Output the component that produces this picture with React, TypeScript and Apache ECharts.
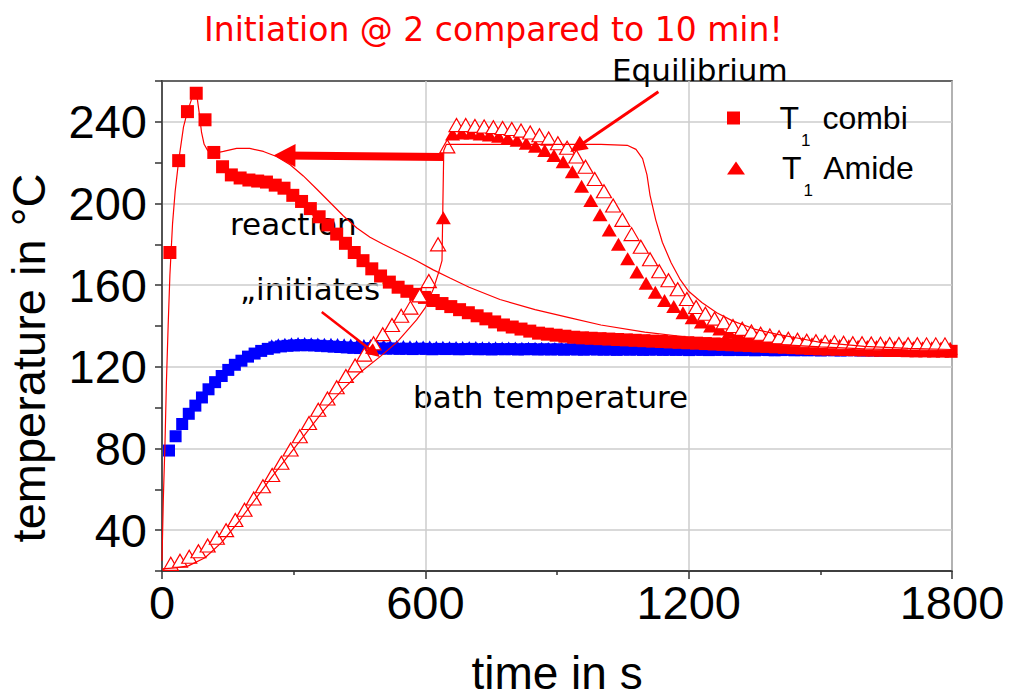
import React, { useEffect, useRef } from 'react';
import * as echarts from 'echarts';

// ---------- text ----------
const TITLE = 'Initiation @ 2 compared to 10 min!';
const X_NAME = 'time in s';
const Y_NAME = 'temperature in °C';
const COMBI_NAME = 'T1 combi';
const AMIDE_NAME = 'T1 Amide';

// ---------- axes ----------
const X_MIN = 0;
const X_MAX = 1800;
const X_INTERVAL = 600;
const Y_MIN = 20;
const Y_MAX = 260;
const Y_INTERVAL = 20;
const Y_LABEL_EVERY = 40;

// ---------- data (time grids: start + step * index) ----------
// T1 combi (red filled squares)
const combiStart = 18;
const combiStep = 20;
const combiTemp = [
  176, 221, 245, 254, 241, 225, 218, 214, 212.5, 211.5,
  211, 210.5, 209, 207.5, 204, 201, 197.5, 193.5, 189.5, 185,
  180.5, 176, 172, 168, 164.5, 161.5, 159, 157, 155.5, 154,
  152.5, 151, 149.5, 148, 146.5, 145, 143.5, 142, 140.5, 139.5,
  138.5, 137.5, 136.5, 136, 135.5, 135, 134.5, 134.2, 134, 133.8,
  133.6, 133.4, 133.2, 133, 132.8, 132.6, 132.4, 132.2, 132, 131.8,
  131.6, 131.4, 131.2, 131, 130.8, 130.6, 130.4, 130.2, 130, 129.8,
  129.6, 129.4, 129.2, 129, 128.8, 128.7, 128.6, 128.5, 128.4, 128.3,
  128.2, 128.1, 128, 128, 127.9, 127.8, 127.8, 127.7, 127.7, 127.6,
];

// T1 Amide (red filled triangles)
const amideStart = 641;
const amideStep = 21;
const amideTemp = [
  193, 234, 234.5, 234.5, 234, 233.5, 233, 232, 231, 229.5,
  228, 226, 223.5, 220.5, 215.5, 208.5, 201.5, 194.5, 187, 180,
  173, 166.5, 161, 156.5, 152.5, 149.5, 146.5, 144, 142, 140,
  138.5, 137, 136, 135, 134.2, 133.5, 133, 132.5, 132, 131.6,
  131.3, 131, 130.7, 130.5, 130.3, 130.1, 130, 129.9, 129.8, 129.7,
  129.6, 129.5, 129.4, 129.3, 129.2, 129.1,
];

// second amide run (red open triangles)
const amideOpenStart = 20;
const amideOpenStep = 21;
const amideOpenTemp = [
  23.5, 25, 27, 29.7, 32.5, 36.3, 40, 45, 50, 55.5,
  61.5, 67, 73, 79.5, 86, 92.5, 99, 104.5, 110, 115.5,
  120.7, 126, 131.5, 136, 140.5, 145, 149, 155, 162, 180,
  228, 238.4, 238.4, 238, 237.7, 237.4, 237, 236.5, 235.7, 234.8,
  233.4, 231.8, 229.5, 227.3, 223, 218, 212, 206, 199, 192,
  185, 178.8, 172.7, 166.8, 162.4, 158, 153.2, 149.3, 146, 143.6,
  141.8, 140, 138.6, 137.3, 136.2, 135.3, 134.5, 133.8, 133.3, 132.8,
  132.5, 132.2, 132, 131.8, 131.6, 131.5, 131.4, 131.3, 131.2, 131.2,
  131.1, 131.1, 131, 131, 131,
];

// bath temperature, combi run (blue squares)
const bathSqStart = 16;
const bathSqStep = 15;
const bathSqTemp = [
  79, 86, 92, 97, 101, 105, 109, 112.5, 115.5, 118.5,
  121, 123, 125, 126.5, 127.8, 128.8, 129.5, 130, 130.3, 130.5,
  130.6, 130.6, 130.5, 130.3, 130.1, 129.9, 129.7, 129.5, 129.3, 129.2,
  129.1, 129,
  129, 128.9, 129, 128.8, 128.9, 128.7, 128.9, 128.8, 128.6, 128.8,
  128.7, 128.8, 128.6, 128.7, 128.8, 128.6, 128.7, 128.5, 128.7, 128.6,
  128.7, 128.5, 128.6, 128.7, 128.5, 128.6, 128.5, 128.6, 128.4, 128.6,
  128.5, 128.4, 128.6, 128.5, 128.4, 128.5, 128.3, 128.5, 128.4, 128.5,
  128.3, 128.4, 128.5, 128.3, 128.4, 128.3, 128.4, 128.2, 128.4, 128.3,
  128.2, 128.3, 128.4, 128.2, 128.3, 128.2, 128.3, 128.1, 128.3, 128.2,
  128.1, 128.2, 128.3, 128.1, 128.2, 128.1, 128.2, 128, 128.2, 128.1,
  128, 128.1, 128.2, 128, 128.1, 128, 127.9, 128.1, 128, 127.9,
  128, 127.8, 128, 127.9, 127.8, 127.9, 127.8,
];

// bath temperature, amide run (blue triangles)
const bathTriStart = 250;
const bathTriStep = 15;
const bathTriTemp = [
  130.8, 131.3, 131.6, 131.8, 131.9, 131.9, 131.8, 131.7, 131.6, 131.5,
  131.4, 131.3, 131.2, 131.1, 131, 130.9, 130.8, 130.7, 130.6, 130.5,
  130.4, 130.3, 130.3, 130.2, 130.2, 130.1, 130.1, 130, 130, 129.9,
  129.9, 129.9, 129.8, 129.8, 129.8, 129.7, 129.7, 129.7, 129.6, 129.6,
  129.6, 129.6, 129.5, 129.5, 129.5, 129.5, 129.4, 129.4, 129.4, 129.4,
  129.3, 129.3, 129.3, 129.3, 129.3, 129.2, 129.2, 129.2, 129.2, 129.2,
  129.1, 129.1, 129.1, 129.1, 129.1, 129.1, 129, 129, 129, 129,
  129, 129, 128.9, 128.9, 128.9, 128.9, 128.9, 128.9, 128.8, 128.8,
  128.8, 128.8, 128.8, 128.8, 128.8, 128.7, 128.7, 128.7, 128.7, 128.7,
  128.7, 128.7, 128.6, 128.6, 128.6, 128.6, 128.6, 128.6, 128.6, 128.5,
  128.5, 128.5, 128.5, 128.5,
];

// thin curve through the combi run
const combiCurveT = [
  0, 3, 7, 10, 14, 18, 24, 30, 38, 49, 58, 68, 75, 80, 85, 90, 96, 104, 117, 140,
  170, 200, 231, 261, 292, 322, 353, 383, 413, 444, 474, 504, 542, 580, 618, 656,
  700, 770, 850, 930, 1000, 1100, 1200, 1300, 1400, 1500, 1600, 1700, 1800,
];
const combiCurveY = [
  25, 55, 84, 112, 140, 165, 190, 206, 221, 237.5, 245, 251.5, 254.5, 252, 244, 235, 229, 226, 224.5, 225.5,
  227, 227, 225.5, 223, 219, 213.5, 207, 200.5, 194, 188, 183.5, 180, 176, 172, 167.5, 163.5,
  159, 153, 148, 144, 140.5, 137, 134.5, 132.5, 131, 129.8, 128.8, 128.3, 128,
];

// thin curve through the amide run
const amideCurveT = [
  0, 30, 60, 98, 136, 174, 212, 250, 290, 330, 370, 410, 450, 497, 535, 580, 600, 618, 630, 638,
  640, 642, 648, 1000, 1060, 1080, 1095, 1105, 1112, 1125, 1140, 1160, 1180, 1200, 1230, 1264,
  1300, 1350, 1400, 1450, 1500, 1600, 1700, 1800,
];
const amideCurveY = [
  21, 21.5, 22.5, 26.5, 34, 44, 55, 66, 77, 88, 99, 108.5, 117, 125, 132, 143, 149, 158, 166, 172,
  200, 226, 229, 229, 228.5, 226.5, 222, 214, 204, 192, 181, 171, 163, 157, 151.5, 146.5,
  142.5, 138.5, 136, 134, 132, 130, 129, 128.5,
];

// annotation arrows: [fromTime, fromTemp, toTime, toTemp]
const arrowShift = [641, 222.8, 279, 223.5];
const arrowEquilibrium = [1131, 254.7, 946, 227.6];
const arrowInitiates = [364, 146.9, 484, 126.9];

// annotation labels
const NOTE_REACTION = 'reaction';
const NOTE_INITIATES = '\u201Einitiates\u201C';
const NOTE_BATH = 'bath temperature';
const NOTE_EQUILIBRIUM = 'Equilibrium';

// ---------- helpers ----------
const grid = (start: number, step: number, vals: number[]) =>
  vals.map((v, i) => [start + step * i, v]);
const pairs = (ts: number[], ys: number[]) => ts.map((t, i) => [t, ys[i]]);

const RED = '#ff0000';
const BLUE = '#0000ff';
const SANS = '"Liberation Sans", Arial, sans-serif';
const DEJAVU = '"DejaVu Sans", Verdana, sans-serif';

const arrow = (a: number[], width: number, head: number[]) => [
  { coord: [a[0], a[1]], lineStyle: { color: RED, width, type: 'solid' } },
  { coord: [a[2], a[3]], symbolSize: head },
];

const legendText = {
  fontFamily: SANS,
  fontSize: 32,
  color: '#000',
  rich: {
    t: { fontFamily: SANS, fontSize: 32, color: '#000', padding: [0, 0, 0, 32] },
    a: { fontFamily: SANS, fontSize: 32, color: '#000' },
    s: { fontFamily: SANS, fontSize: 17, color: '#000', padding: [44, 3, 0, 2] },
  },
};

const legendBase = {
  orient: 'vertical',
  left: 727,
  padding: 0,
  itemWidth: 18,
  itemHeight: 13,
  symbolKeepAspect: true,
  selectedMode: false,
  formatter: (name: string) => '{t|T}{s|1}{a| ' + name.slice(3) + '}',
  textStyle: legendText,
};

function buildOption(): any {
  return {
    animation: false,
    backgroundColor: '#ffffff',
    title: {
      text: TITLE,
      left: 199,
      top: 8,
      textStyle: { color: RED, fontFamily: DEJAVU, fontSize: 33, fontWeight: 'normal' },
    },
    grid: {
      left: 162,
      right: 57,
      top: 81,
      bottom: 129,
      outerBoundsMode: 'none',
      containLabel: false,
      show: true,
      borderColor: '#333333',
      borderWidth: 1.5,
      backgroundColor: 'transparent',
    },
    legend: [
      { ...legendBase, top: 102, data: [{ name: COMBI_NAME, icon: 'path://M0,0H13V13H0Z' }] },
      { ...legendBase, top: 152, data: [{ name: AMIDE_NAME, icon: 'path://M9,0L18,13L0,13Z' }] },
    ],
    xAxis: {
      type: 'value',
      min: X_MIN,
      max: X_MAX,
      interval: X_INTERVAL,
      name: X_NAME,
      nameLocation: 'middle',
      nameGap: 84,
      nameTextStyle: { fontFamily: SANS, fontSize: 46, lineHeight: 36, color: '#000' },
      axisLine: { show: true, onZero: false, lineStyle: { color: '#333333', width: 1.5 } },
      axisTick: { show: true, length: 8, lineStyle: { color: '#333333', width: 1.5 } },
      minorTick: { show: true, splitNumber: 2, length: 4, lineStyle: { color: '#333333', width: 1.5 } },
      axisLabel: { fontFamily: SANS, fontSize: 47, color: '#000', margin: 8, formatter: (v: number) => String(v) },
      splitLine: { show: true, lineStyle: { color: '#cccccc', width: 1.5 } },
    },
    yAxis: {
      type: 'value',
      min: Y_MIN,
      max: Y_MAX,
      interval: Y_INTERVAL,
      name: Y_NAME,
      nameLocation: 'middle',
      nameGap: 110,
      nameTextStyle: { fontFamily: SANS, fontSize: 47, color: '#000', padding: [0, 64, 0, 0] },
      axisLine: { show: true, onZero: false, lineStyle: { color: '#333333', width: 1.5 } },
      axisTick: { show: true, length: 7, lineStyle: { color: '#333333', width: 1.5 } },
      axisLabel: {
        fontFamily: SANS,
        fontSize: 47,
        color: '#000',
        margin: 15,
        formatter: (v: number) => (v % Y_LABEL_EVERY === 0 ? String(v) : ''),
      },
      splitLine: { show: true, lineStyle: { color: ['rgba(0,0,0,0)', '#cccccc'], width: 1.5 } },
    },
    graphic: [
      { type: 'text', x: 230, y: 224, silent: true, style: { text: NOTE_REACTION, font: '31px ' + DEJAVU, fill: '#000', align: 'left', verticalAlign: 'middle' } },
      { type: 'text', x: 240, y: 289, silent: true, style: { text: NOTE_INITIATES, font: '31px ' + DEJAVU, fill: '#000', align: 'left', verticalAlign: 'middle' } },
      { type: 'text', x: 413, y: 397, silent: true, style: { text: NOTE_BATH, font: '31px ' + DEJAVU, fill: '#000', align: 'left', verticalAlign: 'middle' } },
      { type: 'text', x: 612, y: 70, silent: true, style: { text: NOTE_EQUILIBRIUM, font: '31px ' + DEJAVU, fill: '#000', align: 'left', verticalAlign: 'middle' } },
    ],
    series: [
      {
        name: 'bath combi',
        type: 'scatter',
        symbol: 'rect',
        symbolSize: 12,
        itemStyle: { color: BLUE, opacity: 1 },
        data: grid(bathSqStart, bathSqStep, bathSqTemp),
      },
      {
        name: 'bath amide',
        type: 'scatter',
        symbol: 'triangle',
        symbolSize: [12, 11],
        itemStyle: { color: BLUE, opacity: 1 },
        data: grid(bathTriStart, bathTriStep, bathTriTemp),
      },
      {
        name: COMBI_NAME,
        type: 'scatter',
        symbol: 'rect',
        symbolSize: 13,
        itemStyle: { color: RED, opacity: 1 },
        data: grid(combiStart, combiStep, combiTemp),
      },
      {
        name: AMIDE_NAME,
        type: 'scatter',
        symbol: 'triangle',
        symbolSize: [15, 13],
        itemStyle: { color: RED, opacity: 1 },
        data: grid(amideStart, amideStep, amideTemp),
      },
      {
        name: 'amide open',
        type: 'scatter',
        symbol: 'triangle',
        symbolSize: [15, 13],
        itemStyle: { color: '#ffffff', borderColor: RED, borderWidth: 1.2, opacity: 1 },
        data: grid(amideOpenStart, amideOpenStep, amideOpenTemp),
      },
      {
        name: 'combi curve',
        type: 'line',
        showSymbol: false,
        symbol: 'none',
        lineStyle: { color: RED, width: 1.2 },
        data: pairs(combiCurveT, combiCurveY),
        markLine: {
          silent: true,
          animation: false,
          symbol: ['none', 'triangle'],
          label: { show: false },
          data: [
            arrow(arrowShift, 8, [23, 22]),
            arrow(arrowEquilibrium, 3, [16, 17]),
            arrow(arrowInitiates, 2.5, [13, 14]),
          ],
        },
      },
      {
        name: 'amide curve',
        type: 'line',
        showSymbol: false,
        symbol: 'none',
        lineStyle: { color: RED, width: 1.2 },
        data: pairs(amideCurveT, amideCurveY),
      },
    ],
  };
}

export default function App() {
  const ref = useRef<HTMLDivElement>(null);
  useEffect(() => {
    if (!ref.current) return;
    const chart = echarts.init(ref.current, undefined, { renderer: 'svg' });
    chart.setOption(buildOption());
    return () => chart.dispose();
  }, []);
  return (
    <div
      ref={ref}
      style={{ position: 'fixed', left: 0, top: 0, width: 1009, height: 700, background: '#fff' }}
    />
  );
}
